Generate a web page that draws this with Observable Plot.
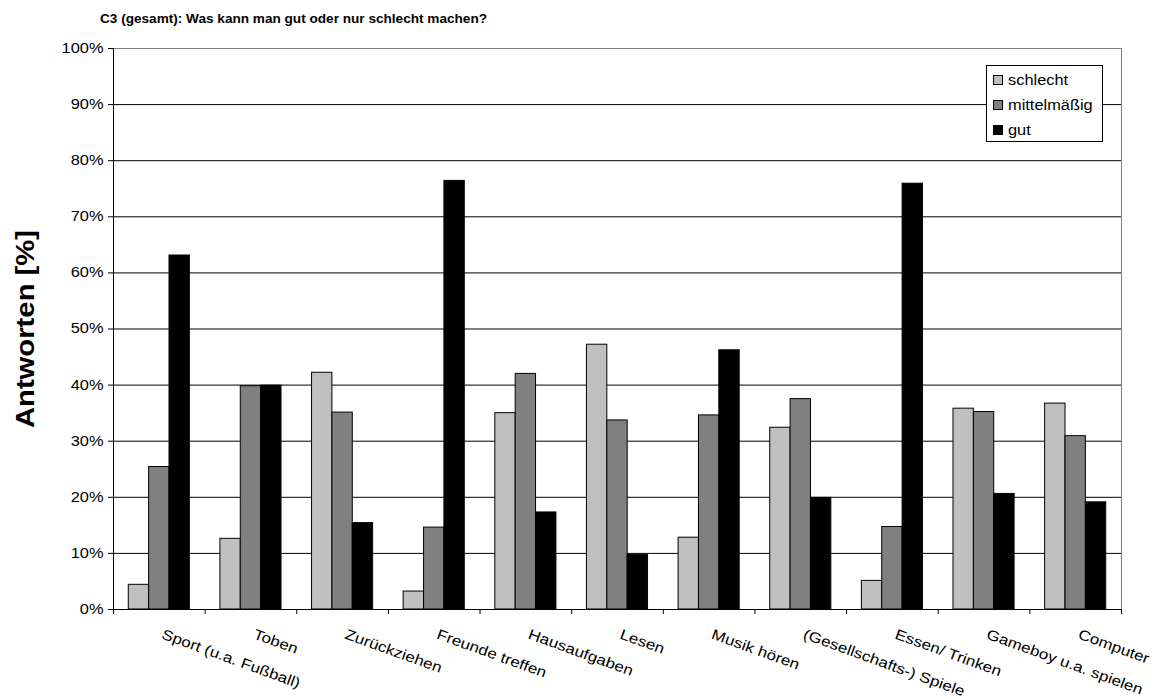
<!DOCTYPE html>
<html>
<head>
<meta charset="utf-8">
<script src="https://cdn.jsdelivr.net/npm/d3@7"></script>
<script src="https://cdn.jsdelivr.net/npm/@observablehq/plot@0.6"></script>
<style>
  html, body { margin: 0; padding: 0; background: #fff; }
  body { font-family: "Liberation Sans", Arial, sans-serif; color: #000; }
  #wrap { position: relative; width: 1161px; height: 699px; overflow: hidden; }
  #title { height: 30px; line-height: 38px; padding-left: 100px; font-size: 13.6px; font-weight: bold; white-space: nowrap; }
  #legend { position: absolute; left: 986px; top: 65px; width: 117px; height: 77px; box-sizing: border-box;
            border: 1px solid #000; background: #fff; padding: 1px 0 0 6px; }
  #legend .row { height: 25px; display: flex; align-items: center; }
  #legend .sw { width: 10px; height: 10px; box-sizing: border-box; border: 1px solid #000; margin-right: 5px; flex: none; }
  #legend .lab { display: inline-block; font-size: 14px; transform: scaleX(1.17); transform-origin: left center; white-space: nowrap; }
</style>
</head>
<body>
<div id="wrap">
  <div id="title"></div>
  <div id="chart"></div>
  <div id="legend"></div>
</div>
<script>
const titleText = "C3 (gesamt): Was kann man gut oder nur schlecht machen?";
const yTitle = "Antworten [%]";

const categories = [
  "Sport (u.a. Fußball)", "Toben", "Zurückziehen", "Freunde treffen", "Hausaufgaben",
  "Lesen", "Musik hören", "(Gesellschafts-) Spiele", "Essen/ Trinken",
  "Gameboy u.a. spielen", "Computer"
];
const series = ["schlecht", "mittelmäßig", "gut"];
const seriesColors = ["#c0c0c0", "#808080", "#000000"];

// Share of answers in percent, one value per category
const schlecht      = [4.4, 12.6, 42.2, 3.2, 35.0, 47.2, 12.8, 32.4, 5.1, 35.8, 36.7];
const mittelmaessig = [25.4, 39.8, 35.1, 14.6, 42.0, 33.7, 34.6, 37.5, 14.7, 35.2, 30.9];
const gut           = [63.1, 39.9, 15.4, 76.4, 17.3, 9.7, 46.2, 19.9, 75.9, 20.6, 19.1];

const yTicks = d3.range(0, 101, 10);

// Position of each series within a category slot (gap of 1.5 bar widths between groups)
const inner = d3.scaleBand().domain(series).range([0, 1]).paddingInner(0).paddingOuter(0.75);
const valueLists = [schlecht, mittelmaessig, gut];
const rows = categories.flatMap((c, i) => series.map((s, j) => ({
  category: c,
  series: s,
  value: valueLists[j][i],
  x1: i + inner(s),
  x2: i + inner(s) + inner.bandwidth()
})));
const labelRows = categories.map((c, i) => ({ label: c, pos: i + 0.5 }));

const font = '"Liberation Sans", Arial, sans-serif';

const chart = Plot.plot({
  width: 1161,
  height: 669,
  marginTop: 18,
  marginBottom: 90,
  marginLeft: 113,
  marginRight: 40,
  style: { fontFamily: font, fontSize: "14px", color: "#000", background: "#fff", overflow: "visible" },
  x: { type: "linear", domain: [0, categories.length] },
  y: { type: "linear", domain: [0, 100] },
  color: { domain: series, range: seriesColors },
  marks: [
    Plot.ruleY(yTicks.filter(v => v > 0 && v < 100), { stroke: "#000", strokeWidth: 1 }),
    Plot.ruleY([100], { stroke: "#808080", strokeWidth: 1 }),
    Plot.ruleX([categories.length], { stroke: "#808080", strokeWidth: 1 }),
    Plot.rectY(rows, { x1: "x1", x2: "x2", y: "value", fill: "series", stroke: "#000", strokeWidth: 1 }),
    Plot.ruleY([0], { stroke: "#000", strokeWidth: 1 }),
    Plot.ruleX([0], { stroke: "#000", strokeWidth: 1 }),
    Plot.axisY({ ticks: yTicks, tickSize: 5, tickPadding: 5, tickFormat: d => d + "%", label: null, fontSize: 14, stroke: "#000" }),
    Plot.axisX({ ticks: d3.range(0, categories.length + 1), tickSize: 5, tickFormat: () => "", label: null, stroke: "#000" }),
    Plot.text(labelRows, {
      x: "pos",
      frameAnchor: "bottom",
      text: "label",
      rotate: 20,
      textAnchor: "start",
      lineAnchor: "top",
      dx: 5,
      dy: 19,
      fontSize: 14.5,
      fill: "#000"
    }),
    Plot.text([yTitle], {
      frameAnchor: "left",
      rotate: -90,
      textAnchor: "middle",
      dx: -88,
      fontSize: 25,
      fontWeight: "bold",
      fill: "#000"
    })
  ]
});

document.getElementById("title").textContent = titleText;
document.getElementById("chart").appendChild(chart);

// Slightly widened lettering, as in the original chart's typeface
chart.querySelectorAll("text").forEach(t => {
  const len = t.getComputedTextLength();
  if (len > 0) {
    t.setAttribute("textLength", (len * 1.17).toFixed(2));
    t.setAttribute("lengthAdjust", "spacingAndGlyphs");
  }
});

// Legend
const legend = d3.select("#legend");
series.forEach((s, j) => {
  const row = legend.append("div").attr("class", "row");
  row.append("div").attr("class", "sw").style("background", seriesColors[j]);
  row.append("span").attr("class", "lab").text(s);
});
</script>
</body>
</html>
